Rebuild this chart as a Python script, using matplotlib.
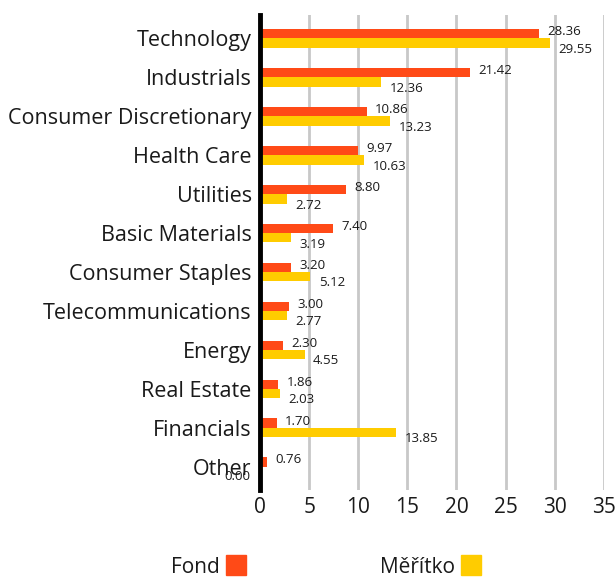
import matplotlib
matplotlib.use("Agg")
import matplotlib.pyplot as plt
from matplotlib.lines import Line2D
import numpy as np

categories = ["Technology", "Industrials", "Consumer Discretionary", "Health Care",
              "Utilities", "Basic Materials", "Consumer Staples", "Telecommunications",
              "Energy", "Real Estate", "Financials", "Other"]
fond = [28.36, 21.42, 10.86, 9.97, 8.80, 7.40, 3.20, 3.00, 2.30, 1.86, 1.70, 0.76]
meritko = [29.55, 12.36, 13.23, 10.63, 2.72, 3.19, 5.12, 2.77, 4.55, 2.03, 13.85, 0.00]
xticks = [0, 5, 10, 15, 20, 25, 30, 35]

RED = "#FF4A17"
YEL = "#FFCC00"
TXT = "#1a1a1a"

plt.rcParams['font.family'] = ['Open Sans', 'DejaVu Sans']

fig = plt.figure(figsize=(6.15, 5.8), dpi=100)
ax = fig.add_axes([0.4228, 0.155, 0.559, 0.819])

y = np.arange(len(categories))
h = 0.24
ax.barh(y - h/2, fond, height=h, color=RED)
ax.barh(y + h/2, meritko, height=h, color=YEL)

# value labels: red one a bit above its bar, yellow one below its bar
for yi, v in zip(y, fond):
    ax.annotate(f"{v:.2f}", (v, yi - h/2), xytext=(6, 1.5), textcoords="offset points",
                ha="left", va="center", fontsize=9.5, color=TXT)
for yi, v in zip(y, meritko):
    if v == 0:
        ax.annotate(f"{v:.2f}", (v, yi + h/2), xytext=(-7, -4), textcoords="offset points",
                    ha="right", va="center", fontsize=9.5, color=TXT)
    else:
        ax.annotate(f"{v:.2f}", (v, yi + h/2), xytext=(6, -4.5), textcoords="offset points",
                    ha="left", va="center", fontsize=9.5, color=TXT)

ax.set_xlim(0, 35)
ax.set_ylim(len(categories) - 0.4, -0.6)
ax.set_xticks(xticks)
ax.set_yticks(y)
ax.set_yticklabels(categories, fontsize=15.5, color=TXT)
ax.tick_params(axis="x", labelsize=15, colors=TXT, length=0, pad=5)
ax.tick_params(axis="y", length=0, pad=6)
ax.grid(axis="x", color="#c8c8c8", linewidth=2)
ax.set_axisbelow(True)
for s in ["top", "right", "bottom"]:
    ax.spines[s].set_visible(False)
ax.spines["left"].set_linewidth(3.5)
ax.spines["left"].set_color("black")
ax.spines["left"].set_zorder(5)

handles = [Line2D([], [], marker="s", linestyle="none", markersize=14.5, color=RED),
           Line2D([], [], marker="s", linestyle="none", markersize=14.5, color=YEL)]
fig.legend(handles, ["Fond", "Měřítko"], loc="center", bbox_to_anchor=(0.532, 0.022),
           ncol=2, frameon=False, markerfirst=False, fontsize=15, columnspacing=6.3,
           handletextpad=0.2, handlelength=1.2, labelcolor=TXT)

fig.savefig("out.png", dpi=100)
